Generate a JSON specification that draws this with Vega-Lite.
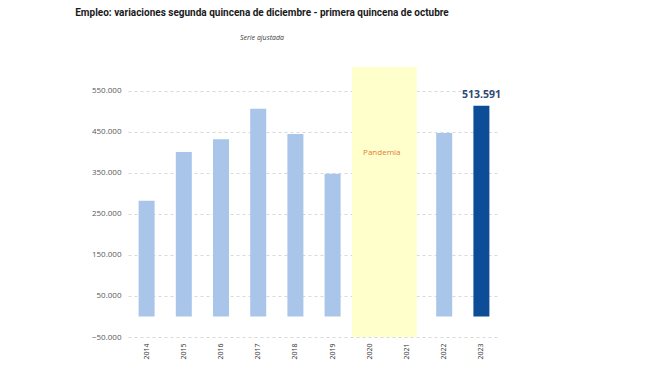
{
  "$schema": "https://vega.github.io/schema/vega-lite/v6.json",
  "width": 372,
  "height": 270,
  "autosize": "none",
  "padding": {"left": 128, "top": 67, "right": 150, "bottom": 44},
  "config": {
    "locale": {"number": {"decimal": ",", "thousands": ".", "grouping": [3], "currency": ["", "€"]}},
    "view": {"stroke": null},
    "font": "Open Sans"
  },
  "title": {
    "text": "Empleo: variaciones segunda quincena de diciembre - primera quincena de octubre",
    "subtitle": "Serie ajustada",
    "anchor": "middle",
    "dx": -52,
    "font": "Roboto",
    "fontSize": 10,
    "fontWeight": "bold",
    "color": "#1a1a1a",
    "subtitleFont": "Open Sans",
    "subtitleFontStyle": "italic",
    "subtitleFontSize": 7,
    "subtitleColor": "#404040",
    "subtitlePadding": 16,
    "offset": 26
  },
  "datasets": {
    "empleo": [
      {"year": "2014", "value": 282000},
      {"year": "2015", "value": 401000},
      {"year": "2016", "value": 432000},
      {"year": "2017", "value": 506000},
      {"year": "2018", "value": 445000},
      {"year": "2019", "value": 348000},
      {"year": "2022", "value": 447000},
      {"year": "2023", "value": 513591}
    ],
    "pandemia": [
      {"year": "2020", "label": "Pandemia"},
      {"year": "2021", "label": ""}
    ]
  },
  "encoding": {
    "x": {
      "field": "year",
      "type": "ordinal",
      "scale": {
        "domain": ["2014", "2015", "2016", "2017", "2018", "2019", "2020", "2021", "2022", "2023"],
        "paddingInner": 0.57,
        "paddingOuter": 0.285
      },
      "axis": {
        "title": null,
        "labelAngle": 270,
        "labelFontSize": 7,
        "labelColor": "#333333",
        "labelPadding": 6,
        "domain": false,
        "ticks": false,
        "grid": false
      }
    }
  },
  "layer": [
    {
      "data": {"name": "empleo"},
      "mark": {"type": "bar", "color": "#A9C5E9"},
      "encoding": {
        "y": {
          "field": "value",
          "type": "quantitative",
          "scale": {"domain": [-50000, 608000], "nice": false, "zero": false},
          "axis": {
            "title": null,
            "values": [-50000, 50000, 150000, 250000, 350000, 450000, 550000],
            "format": ",d",
            "grid": true,
            "gridDash": [3, 3],
            "gridColor": "#d9d9d9",
            "domain": false,
            "ticks": false,
            "labelFontSize": 8,
            "labelColor": "#595959",
            "labelPadding": 7
          }
        },
        "color": {
          "condition": {"test": "datum.year == '2023'", "value": "#0D4C97"},
          "value": "#A9C5E9"
        }
      }
    },
    {
      "data": {"values": [{}]},
      "mark": {"type": "rule", "color": "#C8C8C8", "strokeWidth": 1},
      "encoding": {"y": {"datum": 0}}
    },
    {
      "data": {"name": "pandemia"},
      "transform": [{"filter": "datum.year == '2020'"}],
      "mark": {"type": "bar", "color": "#FFFFCC", "width": {"band": 2.225}},
      "encoding": {"y": {"datum": -50000}, "y2": {"datum": 608000}}
    },
    {
      "data": {"name": "pandemia"},
      "transform": [{"filter": "datum.year == '2021'"}],
      "mark": {"type": "bar", "color": "#FFFFCC", "width": {"band": 1.84}, "xOffset": -5},
      "encoding": {"y": {"datum": -50000}, "y2": {"datum": 608000}}
    },
    {
      "data": {"name": "pandemia"},
      "transform": [{"filter": "datum.year == '2020'"}],
      "mark": {"type": "text", "color": "#E07B39", "fontSize": 8, "dx": 12},
      "encoding": {"y": {"datum": 398000}, "text": {"field": "label"}}
    },
    {
      "data": {"name": "empleo"},
      "transform": [{"filter": "datum.year == '2023'"}],
      "mark": {"type": "text", "color": "#2F4A73", "fontSize": 10.5, "fontWeight": "bold", "baseline": "alphabetic", "dy": -8},
      "encoding": {
        "y": {"field": "value", "type": "quantitative"},
        "text": {"field": "value", "type": "quantitative", "format": ",d"}
      }
    }
  ]
}
